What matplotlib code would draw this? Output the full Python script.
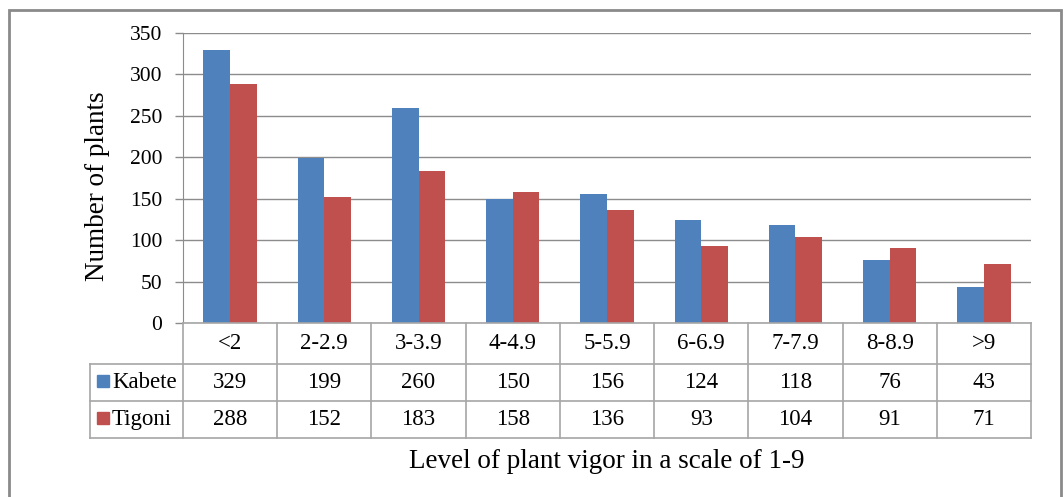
import matplotlib
matplotlib.use("Agg")
import matplotlib.pyplot as plt
from matplotlib.transforms import blended_transform_factory
from matplotlib.patches import Rectangle
from matplotlib.lines import Line2D
import numpy as np

categories = ["<2", "2-2.9", "3-3.9", "4-4.9", "5-5.9", "6-6.9", "7-7.9", "8-8.9", ">9"]
kabete = [329, 199, 260, 150, 156, 124, 118, 76, 43]
tigoni = [288, 152, 183, 158, 136, 93, 104, 91, 71]
series_names = ["Kabete", "Tigoni"]
series_colors = ["#4F81BD", "#C0504D"]
y_ticks = [0, 50, 100, 150, 200, 250, 300, 350]

W, H = 1064, 497
plt.rcParams["font.family"] = ["Liberation Serif", "DejaVu Serif"]

fig = plt.figure(figsize=(W / 100, H / 100), dpi=100)
fig.patch.set_facecolor("white")


def fy(py):
    return 1 - py / H


def fx(px):
    return px / W


ax_left, ax_right, ax_top, ax_bot = 183, 1031, 33, 323
ax = fig.add_axes([fx(ax_left), fy(ax_bot), fx(ax_right) - fx(ax_left), fy(ax_top) - fy(ax_bot)])

x = np.arange(len(categories))
bw = 0.283
ax.bar(x - bw / 2, kabete, width=bw, color=series_colors[0], zorder=3)
ax.bar(x + bw / 2, tigoni, width=bw, color=series_colors[1], zorder=3)

ax.set_xlim(-0.5, len(categories) - 0.5)
ax.set_ylim(0, 350)
ax.set_yticks(y_ticks)
ax.set_yticklabels([str(t) for t in y_ticks], fontsize=15.5)
ax.set_xticks([])
grid_c = "#8c8c8c"
ax.yaxis.grid(True, color=grid_c, linewidth=1, zorder=0)
for s in ["top", "right", "bottom"]:
    ax.spines[s].set_visible(False)
ax.spines["left"].set_color(grid_c)
ax.tick_params(axis="y", length=6, color=grid_c, width=1, pad=9)
ax.set_ylabel("Number of plants", fontsize=19.5)
ax.yaxis.set_label_coords(fx(97) - fx(ax_left), (ax_bot - 186) / (ax_bot - ax_top),
                          transform=blended_transform_factory(fig.transFigure, ax.transAxes))
ax.yaxis.label.set_verticalalignment("center")
ax.yaxis.label.set_x(fx(97))

# data table beneath the chart
tbl_c = "#a6a6a6"
bt = blended_transform_factory(ax.transData, fig.transFigure)
row_y = [323, 364, 401, 438]
leg_left = 90
fig.add_artist(Line2D([fx(ax_left), fx(ax_right)], [fy(323)] * 2, color=tbl_c, lw=1.2, transform=fig.transFigure))
for py in row_y[1:]:
    fig.add_artist(Line2D([fx(leg_left), fx(ax_right)], [fy(py)] * 2, color=tbl_c, lw=1.2, transform=fig.transFigure))
fig.add_artist(Line2D([fx(leg_left)] * 2, [fy(364), fy(438)], color=tbl_c, lw=1.2, transform=fig.transFigure))
for b in np.arange(len(categories) + 1) - 0.5:
    fig.add_artist(Line2D([b, b], [fy(323), fy(438)], color=tbl_c, lw=1.2, transform=bt))

row_centers = [(row_y[i] + row_y[i + 1]) / 2 for i in range(3)]
for i, c in enumerate(categories):
    fig.text(i, fy(row_centers[0]), c, transform=bt, ha="center", va="center", fontsize=16.5)
    fig.text(i, fy(row_centers[1]), str(kabete[i]), transform=bt, ha="center", va="center", fontsize=16.5)
    fig.text(i, fy(row_centers[2]), str(tigoni[i]), transform=bt, ha="center", va="center", fontsize=16.5)

for r, (name, col) in enumerate(zip(series_names, series_colors)):
    cy = row_centers[r + 1]
    fig.add_artist(Rectangle((fx(97), fy(cy + 4)), fx(12), 12 / H, color=col, transform=fig.transFigure))
    fig.text(fx(112), fy(cy), name, ha="left", va="center", fontsize=16.5)

fig.text(fx(607), fy(462), "Level of plant vigor in a scale of 1-9", ha="center", va="center", fontsize=19.5)

# outer frame
fig.add_artist(Rectangle((fx(9), fy(520)), fx(1061) - fx(9), fy(10) - fy(520), fill=False,
                         edgecolor="#8a8a8a", lw=2, transform=fig.transFigure, clip_on=False))

fig.savefig("out.png", dpi=100)
